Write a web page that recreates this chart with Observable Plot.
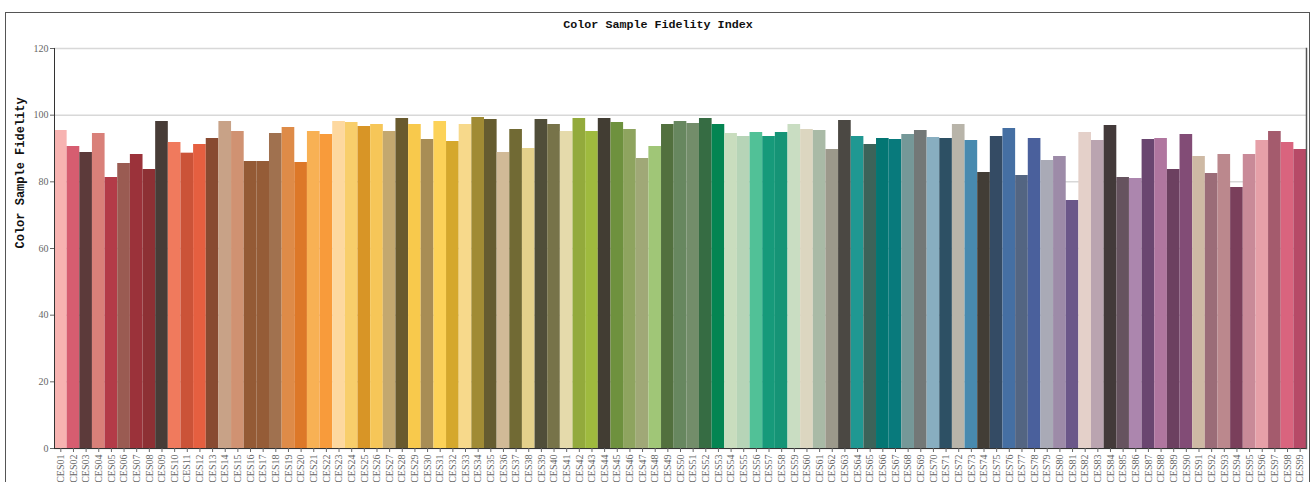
<!DOCTYPE html>
<html>
<head>
<meta charset="utf-8">
<script src="https://cdn.jsdelivr.net/npm/d3@7"></script>
<script src="https://cdn.jsdelivr.net/npm/@observablehq/plot@0.6"></script>
<style>
  html, body { margin: 0; padding: 0; background: #fff; }
  #wrap { position: relative; width: 1316px; height: 482px; overflow: hidden; }
  #border { position: absolute; left: 5px; top: 12px; width: 1305px; height: 520px; border: 1.5px solid #555; box-sizing: border-box; }
  #title { position: absolute; left: 0; width: 1316px; top: 18px; text-align: center; font-family: "Liberation Mono", monospace; font-weight: bold; font-size: 11.7px; color: #111; }
  #chart { position: absolute; left: 0; top: 0; }
</style>
</head>
<body>
<div id="wrap">
  <div id="border"></div>
  <div id="chart"></div>
  <div id="title">Color Sample Fidelity Index</div>
</div>
<script>
const categories = ["CES01","CES02","CES03","CES04","CES05","CES06","CES07","CES08","CES09","CES10","CES11","CES12","CES13","CES14","CES15","CES16","CES17","CES18","CES19","CES20","CES21","CES22","CES23","CES24","CES25","CES26","CES27","CES28","CES29","CES30","CES31","CES32","CES33","CES34","CES35","CES36","CES37","CES38","CES39","CES40","CES41","CES42","CES43","CES44","CES45","CES46","CES47","CES48","CES49","CES50","CES51","CES52","CES53","CES54","CES55","CES56","CES57","CES58","CES59","CES60","CES61","CES62","CES63","CES64","CES65","CES66","CES67","CES68","CES69","CES70","CES71","CES72","CES73","CES74","CES75","CES76","CES77","CES78","CES79","CES80","CES81","CES82","CES83","CES84","CES85","CES86","CES87","CES88","CES89","CES90","CES91","CES92","CES93","CES94","CES95","CES96","CES97","CES98","CES99"];

const fidelity = [95.4,90.6,88.8,94.5,81.3,85.5,88.2,83.7,98.1,91.8,
  88.6,91.2,93.0,98.1,95.1,86.1,86.1,94.5,96.3,85.8,
  95.1,94.2,98.1,97.8,96.6,97.2,95.1,99.0,97.2,92.7,
  98.1,92.1,97.2,99.3,98.7,88.8,95.7,90.0,98.7,97.2,
  95.1,99.0,95.1,99.0,97.8,95.7,87.0,90.6,97.2,98.1,
  97.5,99.0,97.2,94.5,93.6,94.8,93.6,94.8,97.2,95.7,
  95.4,89.7,98.4,93.6,91.2,93.0,92.7,94.2,95.4,93.3,
  93.0,97.2,92.4,82.8,93.6,96.0,81.9,93.0,86.4,87.6,
  74.4,94.8,92.4,96.9,81.3,81.0,92.7,93.0,83.7,94.2,
  87.6,82.5,88.2,78.3,88.2,92.4,95.1,91.8,89.7];

const colors = ["#f7b3b1","#d65d70","#5c3a3a","#d98079","#b33b48","#9a5b52","#9b323a","#8d3034","#473c37","#f07a5d",
  "#cb5338","#e55f40","#884a31","#c8a287","#d09272","#945a35","#955c37","#a0714f","#de8b48","#dd7828",
  "#f8b154","#f89b3b","#fdd89f","#f8ce6b","#d89526","#f6c658","#c3a86f","#695a2e","#f8c94c","#a88d55",
  "#fcd258","#d5a82c","#f7d98b","#a08b34","#655c30","#d1ba97","#716a34","#e4d18b","#504e39","#777349",
  "#e5daab","#93aa3c","#9fba3e","#423d33","#6e913e","#8ea45f","#a0a877","#a0c677","#52703e","#67875f",
  "#738d6a","#366c43","#048552","#c9ddbe","#b6d4b7","#51c197","#169a7a","#159476","#c9ddc2","#dcd6c0",
  "#a9baa6","#9c998b","#4b4843","#209892","#3c6359","#037673","#087a7c","#759898","#737877","#88aec0",
  "#2d5064","#b8b4a9","#488aaf","#423d36","#344b64","#456fa3","#536582","#4a609c","#a9aab6","#9d8ba8",
  "#6b5789","#e4d0c9","#baa4b0","#433a3a","#66535f","#ac86ae","#6a4670","#b0769f","#6c4060","#824c76",
  "#ceb9a4","#9b6c78","#bb888d","#7a3f5b","#c98a98","#e6a0a8","#a45b6d","#d9647e","#b74a67"];

const yTicks = [0, 20, 40, 60, 80, 100, 120];
const yLabel = "Color Sample Fidelity";

const data = categories.map((c, i) => ({name: c, value: fidelity[i], color: colors[i]}));

const chart = Plot.plot({
  width: 1316,
  height: 482,
  marginLeft: 54,
  marginRight: 10,
  marginTop: 48,
  marginBottom: 34,
  style: {fontFamily: "'Liberation Serif', serif", fontSize: "10px", color: "#666", background: "transparent"},
  x: {domain: categories, padding: 0, label: null},
  y: {domain: [0, 120], label: null},
  color: {type: "identity"},
  marks: [
    Plot.gridY(yTicks, {stroke: "#d8d8d8", strokeOpacity: 1, strokeWidth: 1.5}),
    Plot.barY(data, {x: "name", y: "value", fill: "color"}),
    Plot.ruleY([0], {stroke: "#333"}),
    Plot.frame({anchor: "left", stroke: "#333"}),
    Plot.frame({anchor: "right", stroke: "#555", strokeWidth: 1.5}),
    Plot.axisY({ticks: yTicks, tickSize: 4, tickPadding: 2, fill: "#666", label: null}),
    Plot.axisX({tickRotate: -90, tickSize: 4, tickPadding: 2, fill: "#666", label: null}),
    Plot.text([yLabel], {frameAnchor: "left", rotate: -90, dx: -34, fontFamily: "'Liberation Mono', monospace", fontWeight: "bold", fontSize: 12, fill: "#111"})
  ]
});
document.getElementById("chart").appendChild(chart);
</script>
</body>
</html>
